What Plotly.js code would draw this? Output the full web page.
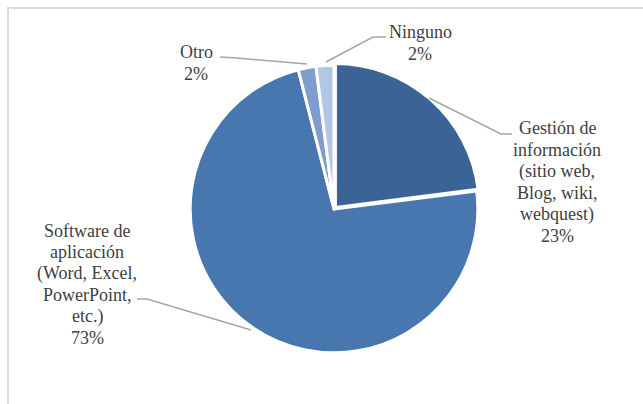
<!DOCTYPE html>
<html>
<head>
<meta charset="utf-8">
<script src="https://cdn.plot.ly/plotly-3.0.1.min.js"></script>
</head>
<body style="margin:0;padding:0;background:#fff;">
<div id="chart" style="width:643px;height:404px;"></div>
<script>
// Data
const categories = [
  "Gestión de<br>información<br>(sitio web,<br>Blog, wiki,<br>webquest)",
  "Software de<br>aplicación<br>(Word, Excel,<br>PowerPoint,<br>etc.)",
  "Otro",
  "Ninguno"
];
const values = [23, 73, 2, 2];
const percentLabels = ["23%", "73%", "2%", "2%"];
const sliceColors = ["#3B6395", "#4877B0", "#7E9CCC", "#B4C6E5"];

// Layout helpers (pixel -> paper, margins are zero)
const W = 643, H = 404;
const px = x => x / W;
const py = y => 1 - y / H;

// Label placement (pixel centres) and leader lines
const labelPos = [[557, 182], [87, 284.5], [196, 63], [420, 43]];
const lineStep = 21.5;
const leaders = [
  [[429, 98], [501, 134], [512, 134]],
  [[251, 330], [147, 299], [137, 299]],
  [[307, 64], [237, 58], [220, 57]],
  [[326, 62], [373, 37], [386, 37]]
];

const labelFont = {family: "Liberation Serif", size: 18, color: "#404040"};

// one annotation per text line (single-line text)
const annotations = [];
categories.forEach((c, i) => {
  const lines = (c + "<br>" + percentLabels[i]).split("<br>");
  const n = lines.length;
  lines.forEach((line, k) => {
    annotations.push({
      xref: "paper", yref: "paper",
      x: px(labelPos[i][0]),
      y: py(labelPos[i][1] + (k - (n - 1) / 2) * lineStep),
      xanchor: "center", yanchor: "middle",
      text: line,
      showarrow: false,
      font: labelFont
    });
  });
});

const shapes = leaders.map(pts => ({
  type: "path", xref: "paper", yref: "paper",
  path: "M " + pts.map(p => px(p[0]) + "," + py(p[1])).join(" L "),
  line: {color: "#A6A6A6", width: 1.5}
}));
shapes.push({
  type: "rect", xref: "paper", yref: "paper",
  x0: px(8), x1: px(660), y0: py(420), y1: py(8),
  line: {color: "#D9D9D9", width: 2}
});

const trace = {
  type: "pie",
  values: values,
  labels: categories,
  sort: false,
  direction: "clockwise",
  rotation: 0,
  textinfo: "none",
  hoverinfo: "none",
  pull: [0.015, 0, 0, 0],
  marker: {colors: sliceColors, line: {color: "#FFFFFF", width: 3}},
  domain: {x: [px(188), px(480)], y: [py(355), py(63)]},
  showlegend: false
};

const layout = {
  width: W, height: H,
  margin: {l: 0, r: 0, t: 0, b: 0},
  paper_bgcolor: "#FFFFFF",
  font: {family: "Liberation Serif", color: "#404040"},
  showlegend: false,
  annotations: annotations,
  shapes: shapes
};

Plotly.newPlot("chart", [trace], layout, {displayModeBar: false});
</script>
</body>
</html>
